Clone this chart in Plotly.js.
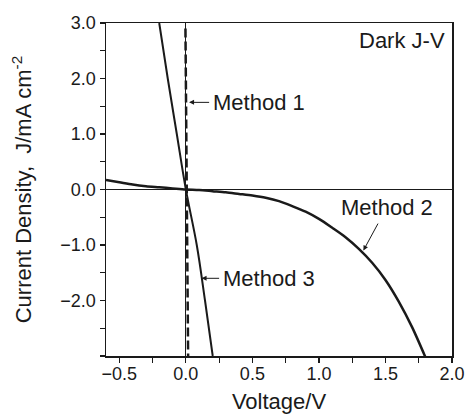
<!DOCTYPE html>
<html>
<head>
<meta charset="utf-8">
<script src="https://cdn.plot.ly/plotly-3.0.1.min.js"></script>
<style>html,body{margin:0;padding:0;background:#fff;}#chart{width:470px;height:420px;}</style>
</head>
<body>
<div id="chart"></div>
<script>
// Method 1 (dashed, nearly vertical)
const m1V = [-0.003, 0.008, 0.017];
const m1J = [2.9, 0.0, -3.0];
// Method 3 (steep solid line)
const m3V = [-0.2, -0.136, -0.068, 0.0, 0.082, 0.144, 0.202];
const m3J = [3.0, 2.0, 1.0, 0.0, -1.0, -2.0, -3.0];
// Method 2 (dark J-V curve)
const m2V = [-0.6, -0.5, -0.4, -0.3, -0.2, -0.1, 0.0, 0.1, 0.2, 0.3, 0.4, 0.5, 0.6, 0.7, 0.8, 0.9, 1.0, 1.1, 1.2, 1.3, 1.4, 1.5, 1.6, 1.7, 1.8];
const m2J = [0.17, 0.13, 0.09, 0.06, 0.04, 0.02, 0.0, -0.01, -0.03, -0.05, -0.08, -0.11, -0.15, -0.21, -0.30, -0.40, -0.53, -0.69, -0.86, -1.07, -1.32, -1.63, -2.02, -2.48, -3.02];
const xTicks = [-0.5, 0.0, 0.5, 1.0, 1.5, 2.0];
const yTicks = [-2.0, -1.0, 0.0, 1.0, 2.0, 3.0];

const ink = '#1a1a1a';
const font = {family: 'Liberation Sans, Arial, sans-serif', color: ink};

const traces = [
  {x: m1V, y: m1J, mode: 'lines', line: {color: ink, width: 2.5, dash: '9px,4px'}, hoverinfo: 'skip'},
  {x: m3V, y: m3J, mode: 'lines', line: {color: ink, width: 2, shape: 'spline'}, hoverinfo: 'skip'},
  {x: m2V, y: m2J, mode: 'lines', line: {color: ink, width: 2.5, shape: 'spline', smoothing: 0.8}, hoverinfo: 'skip'}
];

const axBase = {
  showgrid: false, showline: true, linecolor: ink, linewidth: 1.5, mirror: true,
  ticks: 'outside', ticklen: 5, tickwidth: 1.2, tickcolor: ink,
  zeroline: true, zerolinecolor: ink, zerolinewidth: 1,
  tickfont: Object.assign({size: 18}, font), tickformat: '.1f'
};

// text label with arrow: tail at the text (tx, ty), head at (hx, hy)
const label = (text, tx, ty, hx, hy, xanchor) => ({
  text, x: hx, y: hy, ax: tx, ay: ty, xref: 'x', yref: 'y', axref: 'x', ayref: 'y',
  xanchor, yanchor: 'middle', showarrow: true, arrowhead: 2, arrowsize: 1, arrowwidth: 1,
  arrowcolor: ink, standoff: 0, startstandoff: 2, font: Object.assign({size: 22}, font)
});

const layout = {
  width: 470, height: 420,
  margin: {l: 106, r: 18, t: 23, b: 64},
  paper_bgcolor: '#fff', plot_bgcolor: '#fff',
  showlegend: false,
  xaxis: Object.assign({}, axBase, {range: [-0.6, 2.0], tickvals: xTicks, ticklabelstandoff: -4,
    minor: {dtick: 0.25, tick0: 0, ticks: 'outside', ticklen: 5, tickcolor: ink, tickwidth: 1.2},
    title: {text: 'Voltage/V', font: Object.assign({size: 22}, font), standoff: 10}}),
  yaxis: Object.assign({}, axBase, {range: [-3.0, 3.0], tickvals: yTicks,
    minor: {dtick: 0.5, tick0: 0, ticks: 'outside', ticklen: 5, tickcolor: ink, tickwidth: 1.2},
    title: {text: 'Current Density,  J/mA cm<sup>-2</sup>', font: Object.assign({size: 22}, font), standoff: 22}}),
  annotations: [
    {text: 'Dark J-V', x: 1.96, y: 2.68, xref: 'x', yref: 'y', showarrow: false, xanchor: 'right', yanchor: 'middle', font: Object.assign({size: 22}, font)},
    label('Method 1', 0.19, 1.57, 0.024, 1.57, 'left'),
    label('Method 2', 1.508, -0.33, 1.334, -1.10, 'center'),
    label('Method 3', 0.265, -1.6, 0.118, -1.6, 'left')
  ]
};

Plotly.newPlot('chart', traces, layout, {staticPlot: true, displayModeBar: false});
</script>
</body>
</html>
